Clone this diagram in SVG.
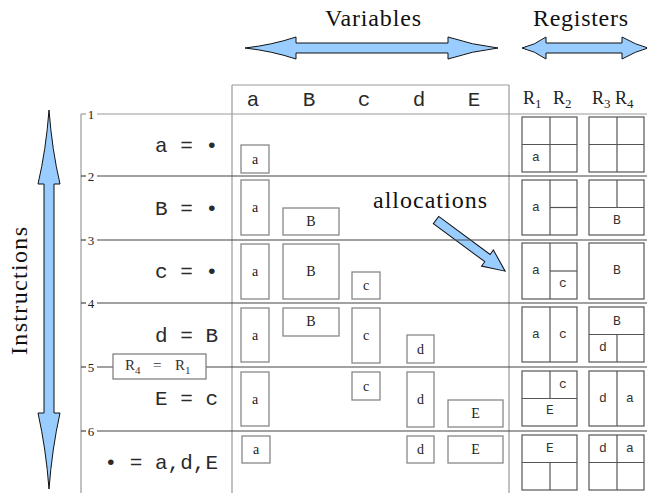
<svg xmlns="http://www.w3.org/2000/svg" width="647" height="493" viewBox="0 0 647 493">
  <style>
    .title { font-family: "Liberation Serif", "Times New Roman", serif; font-size: 24px; fill: #111; }
    .mono { font-family: "Liberation Mono", monospace; font-size: 21px; fill: #2a2a2a; }
    .tick { font-family: "Liberation Serif", serif; font-size: 13px; fill: #222; text-anchor: middle; }
    .grid { stroke: #999; stroke-width: 1.2; fill: none; }
    .row { stroke: #444; stroke-width: 1.2; fill: none; }
    .vbox { fill: #fff; stroke: #888; stroke-width: 1.3; }
    .vlab { font-family: "Liberation Serif", serif; font-size: 14px; fill: #222; text-anchor: middle; }
    .rbox { fill: #fff; stroke: #555; stroke-width: 1.2; }
    .rdiv { stroke: #555; stroke-width: 1.2; }
    .rlab { font-family: "Liberation Mono", monospace; font-size: 13px; fill: #333; text-anchor: middle; }
    .arrow { fill: #99ccff; stroke: #111; stroke-width: 1; stroke-linejoin: miter; }
    .reg { font-family: "Liberation Serif", serif; font-size: 18px; fill: #222; }
  </style>

  <!-- headings -->
  <text class="title" x="325" y="26" textLength="96">Variables</text>
  <text class="title" x="533" y="26" textLength="95">Registers</text>
  <text class="title" transform="translate(27,355) rotate(-90)" x="0" y="0" textLength="128">Instructions</text>
  <text class="title" x="373" y="208" textLength="114">allocations</text>

  <!-- span arrows -->
  <g id="arrows">
    <path class="arrow" d="M245,48 Q272,45 296,37 L296,43 L448,43 L448,37 Q472,45 498,48 Q472,51 448,59 L448,53 L296,53 L296,59 Q272,51 245,48 Z"/>
    <path class="arrow" d="M522,48 Q535,45 546,37 L546,43 L622,43 L622,37 Q636,45 648,48 Q636,51 622,59 L622,53 L546,53 L546,59 Q535,51 522,48 Z"/>
    <path class="arrow" d="M49,110 Q52,150 60,184 L54,184 L54,413 L60,413 Q52,449 49,489 Q46,449 38,413 L44,413 L44,184 L38,184 Q46,150 49,110 Z"/>
    <path class="arrow" transform="translate(436,220) rotate(36.5)" d="M0,-4.5 L64,-4.5 L64,-10 L86,0 L64,10 L64,4.5 L0,4.5 Z"/>
  </g>

  <!-- frame and instruction lines -->
  <g id="frame">
    <line class="grid" x1="232" y1="85" x2="509" y2="85"/>
    <line class="grid" x1="232" y1="85" x2="232" y2="493"/>
    <line class="grid" x1="509" y1="85" x2="509" y2="493"/>
    <line class="grid" x1="81" y1="114" x2="81" y2="493"/>
    <line class="grid" x1="81" y1="114" x2="86" y2="114"/>
    <line class="grid" x1="97" y1="114" x2="647" y2="114"/>
    <line class="row" x1="81" y1="176" x2="86" y2="176"/>
    <line class="row" x1="97" y1="176" x2="647" y2="176"/>
    <line class="row" x1="81" y1="240" x2="86" y2="240"/>
    <line class="row" x1="97" y1="240" x2="647" y2="240"/>
    <line class="row" x1="81" y1="303" x2="86" y2="303"/>
    <line class="row" x1="97" y1="303" x2="647" y2="303"/>
    <line class="row" x1="81" y1="367" x2="86" y2="367"/>
    <line class="row" x1="97" y1="367" x2="647" y2="367"/>
    <line class="row" x1="81" y1="431" x2="86" y2="431"/>
    <line class="row" x1="97" y1="431" x2="647" y2="431"/>
    <text class="tick" x="91" y="118.5">1</text>
    <text class="tick" x="91" y="180.5">2</text>
    <text class="tick" x="91" y="244.5">3</text>
    <text class="tick" x="91" y="307.5">4</text>
    <text class="tick" x="91" y="371.5">5</text>
    <text class="tick" x="91" y="435.5">6</text>
  </g>

  <!-- column headers -->
  <g id="headers">
    <text class="mono" x="253" y="106" text-anchor="middle">a</text>
    <text class="mono" x="309" y="106" text-anchor="middle">B</text>
    <text class="mono" x="364" y="106" text-anchor="middle">c</text>
    <text class="mono" x="419" y="106" text-anchor="middle">d</text>
    <text class="mono" x="474" y="106" text-anchor="middle">E</text>
    <text class="reg" x="523" y="104">R<tspan font-size="13" dy="4">1</tspan></text>
    <text class="reg" x="553" y="104">R<tspan font-size="13" dy="4">2</tspan></text>
    <text class="reg" x="592" y="104">R<tspan font-size="13" dy="4">3</tspan></text>
    <text class="reg" x="615" y="104">R<tspan font-size="13" dy="4">4</tspan></text>
  </g>

  <!-- instructions -->
  <g id="instructions">
    <text class="mono" x="218" y="152" text-anchor="end">a = •</text>
    <text class="mono" x="218" y="215" text-anchor="end">B = •</text>
    <text class="mono" x="218" y="278" text-anchor="end">c = •</text>
    <text class="mono" x="218" y="342" text-anchor="end">d = B</text>
    <text class="mono" x="218" y="405" text-anchor="end">E = c</text>
    <text class="mono" x="218" y="469" text-anchor="end">• = a,d,E</text>
  </g>

  <!-- move between registers -->
  <g id="move">
    <rect x="113" y="354" width="93" height="25" fill="#fff" stroke="#777" stroke-width="1.2"/>
    <text font-family="Liberation Serif, serif" font-size="15" fill="#333" x="125" y="370">R<tspan font-size="11" dy="4">4</tspan><tspan x="153" dy="-4">=</tspan><tspan x="175">R</tspan><tspan font-size="11" dy="4">1</tspan></text>
  </g>

  <!-- variable lifetimes -->
  <g id="row1-vars">
    <rect class="vbox" x="241" y="145" width="28" height="28"/><text class="vlab" x="255" y="164">a</text>
  </g>
  <g id="row2-vars">
    <rect class="vbox" x="241" y="180" width="28" height="55"/><text class="vlab" x="255" y="212">a</text>
    <rect class="vbox" x="283" y="208" width="56" height="27"/><text class="vlab" x="311" y="226">B</text>
  </g>
  <g id="row3-vars">
    <rect class="vbox" x="241" y="244" width="28" height="55"/><text class="vlab" x="255" y="276">a</text>
    <rect class="vbox" x="283" y="244" width="56" height="55"/><text class="vlab" x="311" y="276">B</text>
    <rect class="vbox" x="352" y="272" width="28" height="27"/><text class="vlab" x="366" y="290">c</text>
  </g>
  <g id="row4-vars">
    <rect class="vbox" x="241" y="308" width="28" height="54"/><text class="vlab" x="255" y="340">a</text>
    <rect class="vbox" x="283" y="308" width="56" height="28"/><text class="vlab" x="311" y="326">B</text>
    <rect class="vbox" x="352" y="308" width="28" height="55"/><text class="vlab" x="366" y="340">c</text>
    <rect class="vbox" x="407" y="335" width="27" height="28"/><text class="vlab" x="420.5" y="354">d</text>
  </g>
  <g id="row5-vars">
    <rect class="vbox" x="241" y="372" width="28" height="54"/><text class="vlab" x="255" y="404">a</text>
    <rect class="vbox" x="352" y="372" width="28" height="28"/><text class="vlab" x="366" y="391">c</text>
    <rect class="vbox" x="407" y="372" width="27" height="55"/><text class="vlab" x="420.5" y="404">d</text>
    <rect class="vbox" x="448" y="400" width="55" height="27"/><text class="vlab" x="475.5" y="418">E</text>
  </g>
  <g id="row6-vars">
    <rect class="vbox" x="242" y="436" width="28" height="27"/><text class="vlab" x="256" y="454">a</text>
    <rect class="vbox" x="407" y="436" width="27" height="27"/><text class="vlab" x="420.5" y="454">d</text>
    <rect class="vbox" x="448" y="436" width="55" height="27"/><text class="vlab" x="475.5" y="454">E</text>
  </g>

  <!-- register occupancy -->
  <g id="row1-regs">
    <rect class="rbox" x="522" y="117" width="55" height="55"/>
    <line class="rdiv" x1="550" y1="117" x2="550" y2="172"/>
    <line class="rdiv" x1="522" y1="144.5" x2="577" y2="144.5"/>
    <text class="rlab" x="536" y="161">a</text>
    <rect class="rbox" x="589" y="117" width="55" height="55"/>
    <line class="rdiv" x1="617" y1="117" x2="617" y2="172"/>
    <line class="rdiv" x1="589" y1="144.5" x2="644" y2="144.5"/>
  </g>
  <g id="row2-regs">
    <rect class="rbox" x="522" y="180" width="55" height="55"/>
    <line class="rdiv" x1="550" y1="180" x2="550" y2="235"/>
    <line class="rdiv" x1="550" y1="207.5" x2="577" y2="207.5"/>
    <text class="rlab" x="536" y="211">a</text>
    <rect class="rbox" x="589" y="180" width="55" height="55"/>
    <line class="rdiv" x1="617" y1="180" x2="617" y2="207.5"/>
    <line class="rdiv" x1="589" y1="207.5" x2="644" y2="207.5"/>
    <text class="rlab" x="617" y="224">B</text>
  </g>
  <g id="row3-regs">
    <rect class="rbox" x="522" y="243" width="55" height="56"/>
    <line class="rdiv" x1="550" y1="243" x2="550" y2="299"/>
    <line class="rdiv" x1="550" y1="271" x2="577" y2="271"/>
    <text class="rlab" x="536" y="274">a</text>
    <text class="rlab" x="563" y="287">c</text>
    <rect class="rbox" x="589" y="243" width="55" height="56"/>
    <text class="rlab" x="617" y="274">B</text>
  </g>
  <g id="row4-regs">
    <rect class="rbox" x="522" y="307" width="55" height="55"/>
    <line class="rdiv" x1="550" y1="307" x2="550" y2="362"/>
    <text class="rlab" x="536" y="338">a</text>
    <text class="rlab" x="563" y="338">c</text>
    <rect class="rbox" x="589" y="307" width="55" height="55"/>
    <line class="rdiv" x1="589" y1="334.5" x2="644" y2="334.5"/>
    <line class="rdiv" x1="617" y1="334.5" x2="617" y2="362"/>
    <text class="rlab" x="617" y="325">B</text>
    <text class="rlab" x="603" y="351">d</text>
  </g>
  <g id="row5-regs">
    <rect class="rbox" x="522" y="371" width="55" height="55"/>
    <line class="rdiv" x1="550" y1="371" x2="550" y2="398.5"/>
    <line class="rdiv" x1="522" y1="398.5" x2="577" y2="398.5"/>
    <text class="rlab" x="563" y="388">c</text>
    <text class="rlab" x="550" y="414">E</text>
    <rect class="rbox" x="589" y="371" width="55" height="55"/>
    <line class="rdiv" x1="617" y1="371" x2="617" y2="426"/>
    <text class="rlab" x="603" y="402">d</text>
    <text class="rlab" x="630" y="402">a</text>
  </g>
  <g id="row6-regs">
    <rect class="rbox" x="522" y="435" width="55" height="55"/>
    <line class="rdiv" x1="522" y1="462.5" x2="577" y2="462.5"/>
    <line class="rdiv" x1="550" y1="462.5" x2="550" y2="490"/>
    <text class="rlab" x="550" y="452">E</text>
    <rect class="rbox" x="589" y="435" width="55" height="55"/>
    <line class="rdiv" x1="617" y1="435" x2="617" y2="490"/>
    <line class="rdiv" x1="589" y1="462.5" x2="644" y2="462.5"/>
    <text class="rlab" x="603" y="452">d</text>
    <text class="rlab" x="630" y="452">a</text>
  </g>
</svg>
